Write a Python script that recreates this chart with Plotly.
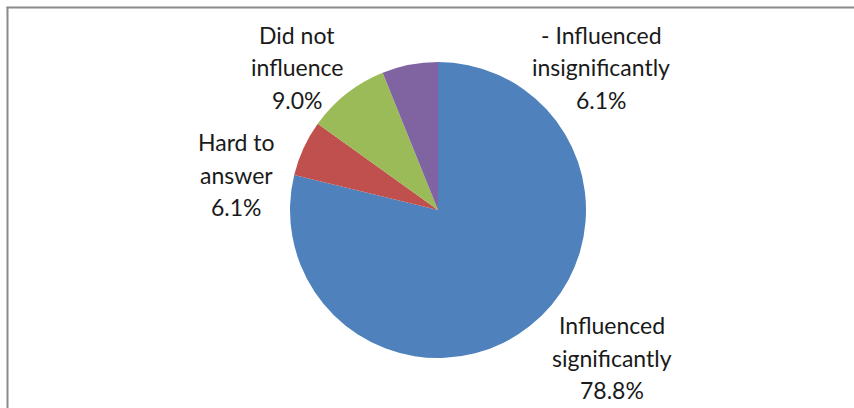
import plotly.graph_objects as go

labels = ["Influenced\nsignificantly", "Hard to\nanswer", "Did not\ninfluence", "- Influenced\ninsignificantly"]
values = [78.8, 6.1, 9.0, 6.1]
colors = ["#4F81BD", "#C0504D", "#9BBB59", "#8064A2"]
# label anchor (center x px, first-line y px)
label_pos = [(612, 325), (237, 142), (297, 35), (601, 35)]

W, H = 854, 408
cx, cy, r = 438, 210, 148

fig = go.Figure(go.Pie(
    labels=[l.replace("\n", " ") for l in labels],
    values=values,
    marker=dict(colors=colors, line=dict(width=0)),
    sort=False,
    direction="clockwise",
    rotation=0,
    textinfo="none",
    hoverinfo="label+percent",
    domain=dict(x=[(cx - r) / W, (cx + r) / W], y=[(H - cy - r) / H, (H - cy + r) / H]),
    showlegend=False,
))

annotations = []
line_h = 32.5
for lab, v, (px, py) in zip(labels, values, label_pos):
    lines = lab.split("\n") + [f"{v:.1f}%"]
    for i, t in enumerate(lines):
        yy = py + i * line_h
        annotations.append(dict(
            x=px / W, y=1 - yy / H, xref="paper", yref="paper",
            text=t, showarrow=False, xanchor="center", yanchor="middle",
            font=dict(family="Lato", size=23, color="#1a1a1a"),
        ))

fig.update_layout(
    width=W, height=H,
    margin=dict(l=0, r=0, t=0, b=0),
    paper_bgcolor="white",
    plot_bgcolor="white",
    annotations=annotations,
    shapes=[
        dict(type="line", xref="paper", yref="paper", x0=7.5 / W, x1=7.5 / W, y0=0, y1=1 - 7 / H,
             line=dict(color="#8a8a8a", width=2)),
        dict(type="line", xref="paper", yref="paper", x0=6.5 / W, x1=1, y0=1 - 7.5 / H, y1=1 - 7.5 / H,
             line=dict(color="#8a8a8a", width=2)),
    ],
)

fig.write_html("out.html")
